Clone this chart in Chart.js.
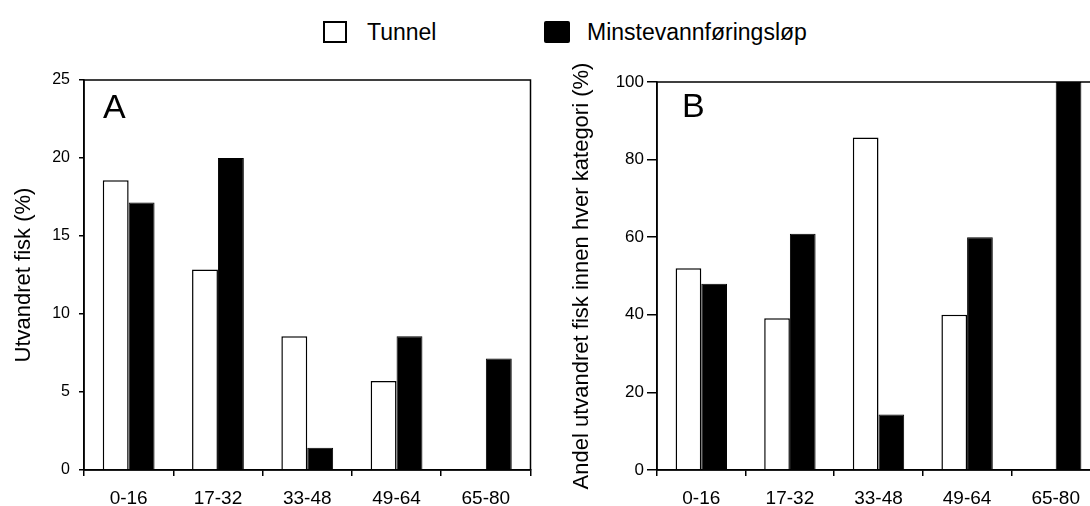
<!DOCTYPE html>
<html lang="no">
<head>
<meta charset="UTF-8" />
<title>Utvandret fisk</title>
<script src="https://cdn.jsdelivr.net/npm/chart.js"></script>
<style>
  html, body { margin: 0; padding: 0; background: #fff; overflow: hidden; }
  #wrap { position: relative; width: 1090px; height: 506px; overflow: hidden;
          font-family: "Liberation Sans", Arial, sans-serif; color: #000; }
  canvas { position: absolute; top: 0; }
  #chart_a { left: 0; }
  #chart_b { left: 545px; }
  .leg_box { position: absolute; top: 21px; height: 22px; box-sizing: border-box; }
  .leg_txt { position: absolute; top: 21px; height: 22px; line-height: 22px; font-size: 23px; white-space: nowrap; }
</style>
</head>
<body>
<div id="wrap">
  <div class="leg_box" style="left:323px; width:24px; border:2px solid #000; background:#fff;"></div>
  <div class="leg_txt" style="left:367px;">Tunnel</div>
  <div class="leg_box" style="left:544px; width:26px; background:#000; border-radius:2px;"></div>
  <div class="leg_txt" style="left:587px;">Minstevannføringsløp</div>
  <canvas id="chart_a" width="545" height="506"></canvas>
  <canvas id="chart_b" width="575" height="506"></canvas>
</div>
<script>
// kategorier (lengde i cm) og verdier lest av figuren
const kategorier = ["0-16", "17-32", "33-48", "49-64", "65-80"];
const serie_navn = ["Tunnel", "Minstevannføringsløp"];

// A: utvandret fisk (%)
const tunnel_a = [18.57, 12.86, 8.57, 5.71, 0];
const minste_a = [17.14, 20.0, 1.43, 8.57, 7.14];
const y_ticks_a = [0, 5, 10, 15, 20, 25];

// B: andel innen hver kategori (%)
const tunnel_b = [52.0, 39.1, 85.7, 40.0, 0];
const minste_b = [48.0, 60.9, 14.3, 60.0, 100];
const y_ticks_b = [0, 20, 40, 60, 80, 100];

Chart.defaults.font.family = "'Liberation Sans', Arial, sans-serif";
Chart.defaults.color = "#000";

// ramme rundt plottet + bokstav A/B
const ramme = {
  id: "ramme",
  afterDatasetsDraw(chart, args, opts) {
    const ctx = chart.ctx, a = chart.chartArea;
    ctx.save();
    ctx.strokeStyle = "#000";
    ctx.lineWidth = 1.5;
    ctx.strokeRect(a.left, a.top, a.right - a.left, a.bottom - a.top);
    ctx.fillStyle = "#000";
    ctx.font = "34px 'Liberation Sans', Arial, sans-serif";
    ctx.textBaseline = "alphabetic";
    ctx.fillText(opts.bokstav, a.left + opts.dx, a.top + opts.dy);
    ctx.restore();
  }
};

function lag_config(tunnel, minste, y_ticks, o) {
  return {
    type: "bar",
    data: {
      labels: kategorier,
      datasets: [
        { label: serie_navn[0], data: tunnel, backgroundColor: "#fff",
          borderColor: "#000", borderWidth: 1.5 },
        { label: serie_navn[1], data: minste, backgroundColor: "#000",
          borderColor: "#000", borderWidth: 1 }
      ]
    },
    options: {
      responsive: false,
      animation: false,
      devicePixelRatio: 1,
      datasets: { bar: { barPercentage: 1, categoryPercentage: 0.58 } },
      layout: { padding: { top: o.top, right: o.right, left: 0, bottom: 0 } },
      plugins: {
        legend: { display: false },
        tooltip: { enabled: false },
        ramme: { bokstav: o.bokstav, dx: o.dx, dy: o.dy }
      },
      scales: {
        x: {
          ticks: { font: { size: 19 }, padding: 11, color: "#000" },
          grid: { display: true, drawOnChartArea: false, drawTicks: true, tickLength: 6,
                  color: "#000", lineWidth: 1.5, offset: true },
          border: { display: true, color: "#000", width: 1.5 },
          afterFit(s) { s.height = 36; }
        },
        y: {
          min: y_ticks[0],
          max: y_ticks[y_ticks.length - 1],
          ticks: { stepSize: y_ticks[1] - y_ticks[0], font: { size: o.ytick }, padding: o.ypad, color: "#000" },
          grid: { display: true, drawOnChartArea: false, drawTicks: true, tickLength: o.tl,
                  color: "#000", lineWidth: 1.5 },
          border: { display: true, color: "#000", width: 1.5 },
          title: { display: true, text: o.tittel, color: "#000", font: { size: 22 },
                   padding: { top: o.tpad, bottom: 0 } },
          afterFit(s) { s.width = o.ybredde; }
        }
      }
    },
    plugins: [ramme]
  };
}

const grafico_a = new Chart(document.getElementById("chart_a"),
  lag_config(tunnel_a, minste_a, y_ticks_a, {
    top: 80, right: 14.5, ybredde: 84, tl: 5, ypad: 9, ytick: 16, tpad: 11,
    tittel: "Utvandret fisk (%)", bokstav: "A", dx: 19, dy: 38
  }));

const grafico_b = new Chart(document.getElementById("chart_b"),
  lag_config(tunnel_b, minste_b, y_ticks_b, {
    top: 82, right: 20, ybredde: 112, tl: 10, ypad: 3, ytick: 17, tpad: 24,
    tittel: "Andel utvandret fisk innen hver kategori (%)", bokstav: "B", dx: 25, dy: 35
  }));
</script>
</body>
</html>
